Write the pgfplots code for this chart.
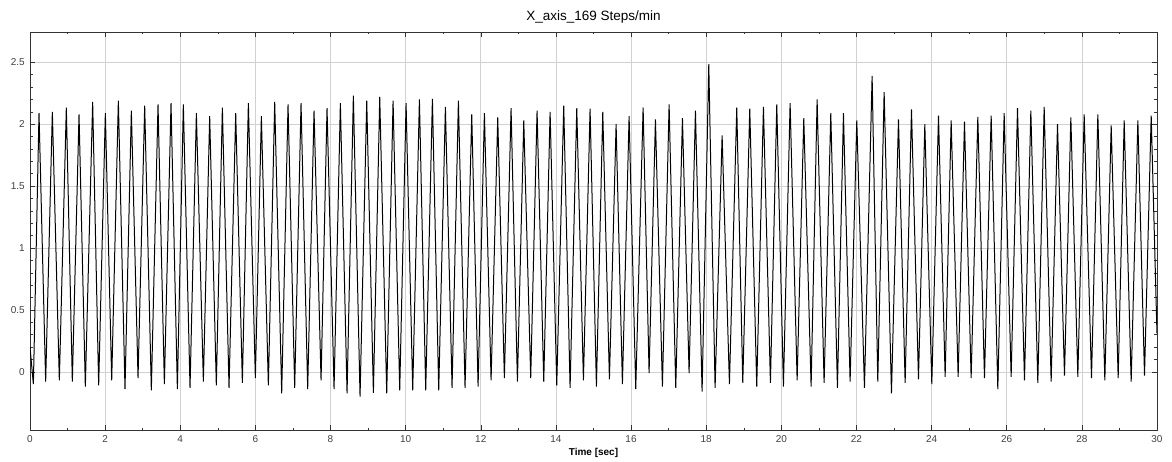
\documentclass[border=0pt]{standalone}
\usepackage{fontspec}
\setmainfont{Liberation Sans}
\usepackage{pgfplots}
\pgfplotsset{compat=1.18}
\begin{document}
\begin{tikzpicture}[x=1pt,y=1pt]
\useasboundingbox (0,0) rectangle (1172,461);
\begin{axis}[
  at={(30pt,31pt)}, anchor=south west,
  width=1127pt, height=398pt, scale only axis,
  xmin=0, xmax=30, ymin=-0.47, ymax=2.745,
  enlargelimits=false,
  xtick={0,2,...,30},
  ytick={0,0.5,1,1.5,2,2.5},
  minor x tick num=1,
  minor y tick num=4,
  tick pos=both, tick align=inside,
  major tick length=5pt, minor tick length=2.5pt,
  every tick/.style={black!80, line width=0.5pt},
  grid=major,
  major grid style={black!18, line width=0.6pt},
  axis line style={black!80, line width=0.8pt},
  /pgf/number format/assume math mode=true,
  ticklabel style={font=\fontsize{10}{12}\selectfont, text=black!75},
  xticklabel style={yshift=-2.4pt},
  yticklabel style={xshift=-1.7pt},
  title={X\_axis\_169 Steps/min},
  title style={at={(axis description cs:0.5,1)}, anchor=base, yshift=5pt, font=\fontsize{13.5}{16}\selectfont},
  xlabel={Time [sec]},
  xlabel style={at={(axis description cs:0.5,0)}, anchor=base, yshift=-25pt, font=\bfseries\fontsize{10}{12}\selectfont},
]
\addplot[black, line width=1pt] coordinates {
(0,0.20) (0.09,-0.10) (0.240,2.09) (0.417,-0.08) (0.595,2.10) (0.781,-0.07) (0.967,2.135) (1.127,-0.08) (1.305,2.08) (1.473,-0.12) (1.668,2.18) (1.828,-0.11) (2.006,2.09) (2.175,-0.07) (2.352,2.19) (2.529,-0.14) (2.698,2.11) (2.876,-0.05) (3.053,2.15) (3.230,-0.15) (3.408,2.16) (3.577,-0.10) (3.754,2.17) (3.923,-0.14) (4.082,2.16) (4.260,-0.13) (4.429,2.09) (4.615,-0.08) (4.783,2.065) (4.960,-0.11) (5.121,2.135) (5.298,-0.13) (5.476,2.09) (5.653,-0.09) (5.813,2.17) (5.999,-0.05) (6.159,2.065) (6.345,-0.11) (6.514,2.18) (6.700,-0.175) (6.869,2.16) (7.046,-0.13) (7.215,2.17) (7.392,-0.14) (7.561,2.11) (7.748,-0.07) (7.907,2.13) (8.094,-0.14) (8.262,2.17) (8.440,-0.175) (8.608,2.23) (8.786,-0.20) (8.964,2.19) (9.141,-0.17) (9.310,2.22) (9.496,-0.175) (9.665,2.19) (9.842,-0.15) (10.011,2.17) (10.188,-0.15) (10.366,2.20) (10.534,-0.15) (10.712,2.205) (10.880,-0.15) (11.058,2.14) (11.235,-0.13) (11.404,2.19) (11.581,-0.13) (11.759,2.08) (11.928,-0.12) (12.096,2.09) (12.274,-0.07) (12.451,2.055) (12.628,-0.05) (12.806,2.13) (12.975,-0.08) (13.144,2.03) (13.329,-0.05) (13.498,2.11) (13.676,-0.08) (13.845,2.10) (14.022,-0.11) (14.208,2.15) (14.377,-0.13) (14.555,2.13) (14.732,-0.07) (14.909,2.125) (15.078,-0.12) (15.247,2.10) (15.424,-0.06) (15.602,2.00) (15.770,-0.10) (15.948,2.065) (16.125,-0.14) (16.321,2.135) (16.480,-0.01) (16.649,2.04) (16.835,-0.12) (17.013,2.16) (17.190,-0.13) (17.368,2.05) (17.545,-0.01) (17.714,2.11) (17.891,-0.16) (18.069,2.485) (18.237,-0.13) (18.424,1.91) (18.619,-0.10) (18.814,2.135) (18.974,-0.09) (19.160,2.125) (19.346,-0.12) (19.524,2.14) (19.710,-0.09) (19.879,2.16) (20.056,-0.12) (20.234,2.17) (20.421,-0.07) (20.598,2.05) (20.793,-0.12) (20.953,2.20) (21.139,-0.09) (21.317,2.09) (21.494,-0.13) (21.654,2.09) (21.831,-0.08) (22.009,2.03) (22.213,-0.13) (22.417,2.39) (22.568,-0.08) (22.737,2.26) (22.932,-0.175) (23.119,2.04) (23.296,-0.09) (23.465,2.12) (23.651,-0.06) (23.820,2.00) (24.006,-0.10) (24.184,2.07) (24.361,-0.04) (24.521,2.03) (24.707,-0.04) (24.876,2.02) (25.053,-0.05) (25.231,2.06) (25.408,-0.05) (25.586,2.07) (25.763,-0.14) (25.932,2.09) (26.118,-0.04) (26.287,2.13) (26.473,-0.07) (26.642,2.11) (26.828,-0.09) (26.997,2.14) (27.183,-0.08) (27.352,2.00) (27.538,-0.03) (27.707,2.055) (27.893,-0.04) (28.062,2.08) (28.257,-0.05) (28.426,2.08) (28.612,-0.07) (28.781,1.99) (28.967,-0.05) (29.127,2.03) (29.313,-0.08) (29.491,2.03) (29.668,-0.03) (29.846,2.07) (30,0.31)
};
\end{axis}
\end{tikzpicture}
\end{document}
